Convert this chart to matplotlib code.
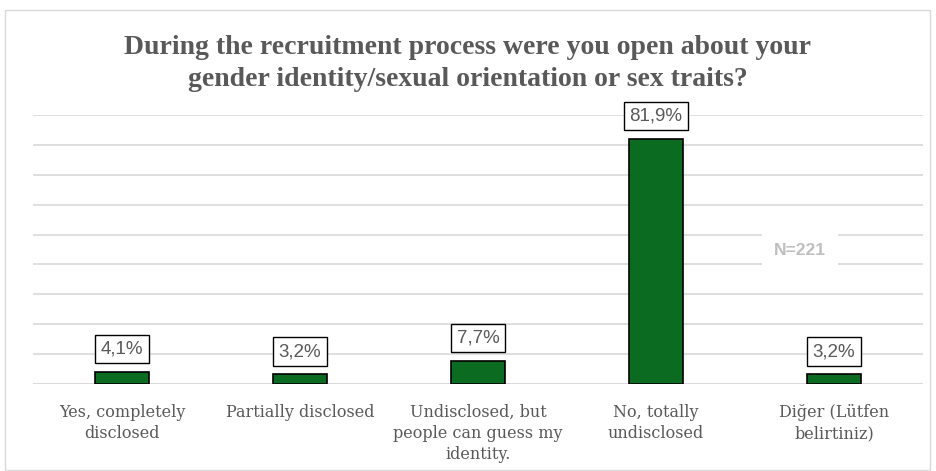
import matplotlib.pyplot as plt
from matplotlib.patches import Rectangle

categories = ['Yes, completely\ndisclosed', 'Partially disclosed',
              'Undisclosed, but\npeople can guess my\nidentity.',
              'No, totally\nundisclosed', 'Diğer (Lütfen\nbelirtiniz)']
values = [4.1, 3.2, 7.7, 81.9, 3.2]
labels = ['4,1%', '3,2%', '7,7%', '81,9%', '3,2%']

grey = '#595959'

fig = plt.figure(figsize=(9.36, 4.71), dpi=100)
fig.patches.append(Rectangle((5 / 936, 1 - 470 / 471), 925 / 936, 460 / 471,
                             transform=fig.transFigure, fill=False,
                             edgecolor='#D9D9D9', linewidth=1))

ax = fig.add_axes([33 / 936, 1 - 384 / 471, 890 / 936, 269 / 471])
x = range(len(values))
ax.bar(x, values, width=0.3, color='#0B6B21', edgecolor='black', linewidth=1.2, zorder=3)
ax.set_xlim(-0.5, 4.5)
ax.set_ylim(0, 90)
ax.set_yticks(range(0, 91, 10))
ax.yaxis.grid(True, color='#D9D9D9', linewidth=1.2, zorder=0)
ax.tick_params(left=False, bottom=False, labelleft=False)
for s in ax.spines.values():
    s.set_visible(False)
ax.axhline(0, color='#D9D9D9', linewidth=1.2, zorder=1)

ax.set_xticks(list(x))
ax.set_xticklabels(categories, fontfamily='DejaVu Serif', fontsize=11.5, color=grey,
                   linespacing=1.3, va='top')
ax.tick_params(axis='x', pad=11)

for i, (v, lab) in enumerate(zip(values, labels)):
    ax.annotate(lab, (i, v), xytext=(0, 16.5), textcoords='offset points',
                ha='center', va='center', fontsize=13.5, color=grey,
                fontfamily='Liberation Sans', zorder=4,
                bbox=dict(boxstyle='square,pad=0.3', facecolor='white',
                          edgecolor='black', linewidth=1))

ax.text(3.81, 44.5, 'N=221', ha='center', va='center', fontsize=12.5,
        fontweight='bold', color='#BFBFBF', fontfamily='Liberation Sans', zorder=4,
        bbox=dict(boxstyle='square,pad=0.7', facecolor='white', edgecolor='none'))

fig.text(0.5, 1 - 63.5 / 471,
         'During the recruitment process were you open about your\n'
         'gender identity/sexual orientation or sex traits?',
         ha='center', va='center', fontsize=20, fontweight='bold', color=grey,
         fontfamily='Liberation Serif', linespacing=1.42)

fig.savefig('out.png', dpi=100)
